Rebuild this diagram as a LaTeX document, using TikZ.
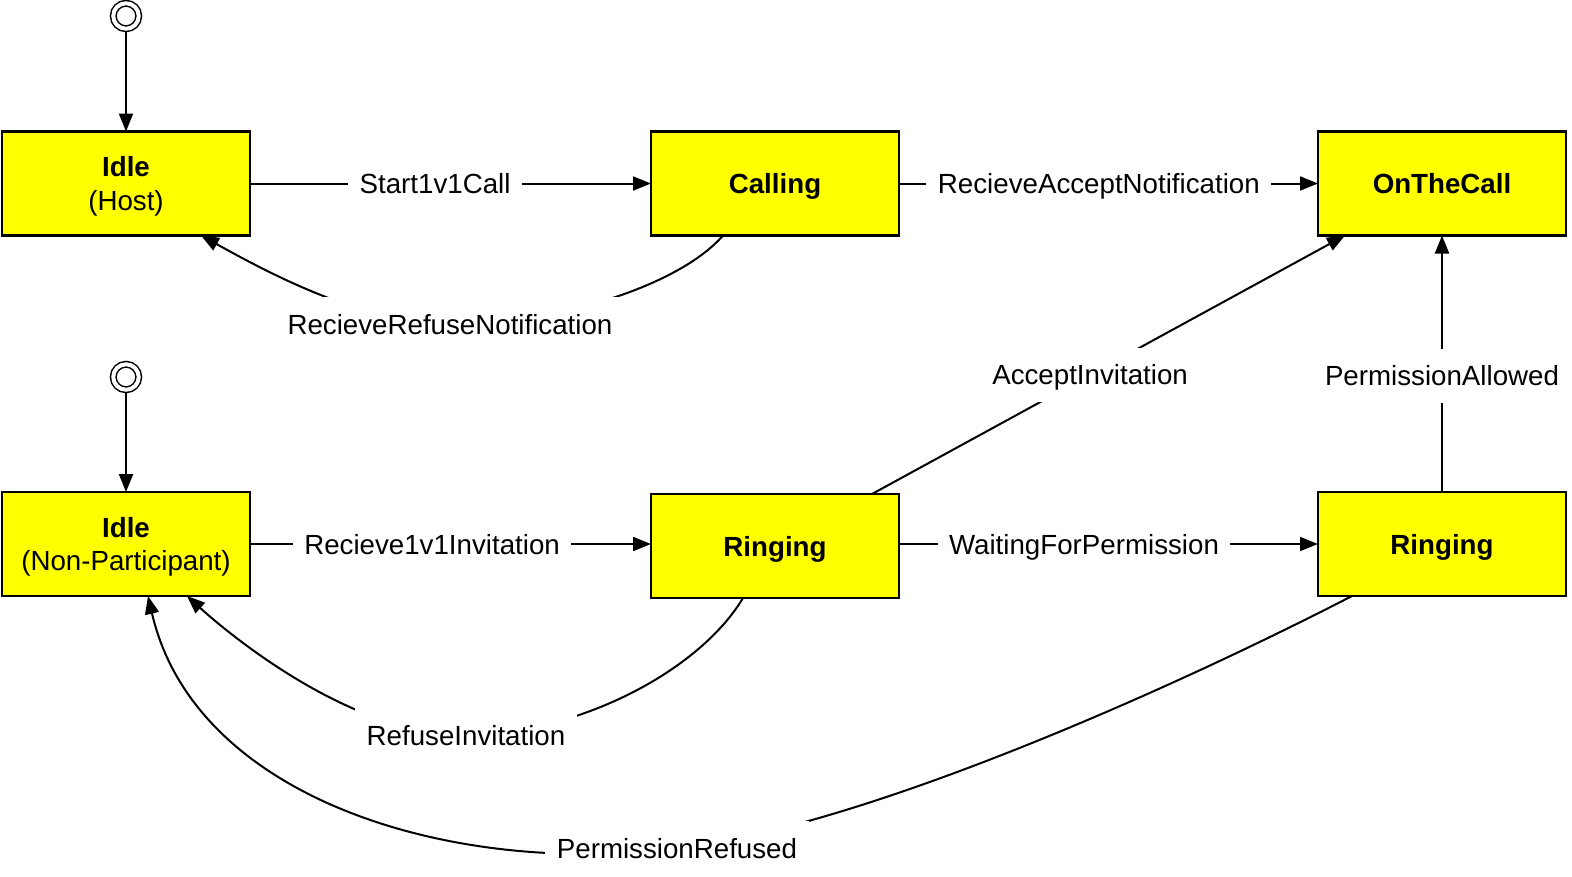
\documentclass[tikz,border=0pt]{standalone}
\usepackage{fontspec}
\setmainfont{Liberation Sans}
\usetikzlibrary{arrows.meta}
\newcommand\dfont{\fontsize{27.7}{33.2}\selectfont}
\definecolor{stateyellow}{RGB}{255,255,0}
\begin{document}
\begin{tikzpicture}[x=1pt,y=-1pt,
  statebox/.style={draw=black, line width=2.1pt, fill=stateyellow, minimum width=248pt,
    minimum height=104pt, inner sep=0pt, outer sep=0pt, align=center, font=\dfont},
  oneline/.style={text height=20pt, text depth=0pt},
  twoline/.style={text height=53.2pt, text depth=0pt},
  initst/.style={circle, draw=black, line width=1.5pt, double=white, double distance=4pt,
    minimum size=25.5pt, inner sep=0pt, outer sep=2.75pt},
  lbl/.style={fill=white, font=\dfont, inner xsep=11.5pt, inner ysep=17pt,
    text height=20pt, text depth=0pt},
  edge/.style={line width=2pt, -{Triangle[length=18pt,width=14pt]}}]
\useasboundingbox (0,0) rectangle (1572,876);

% states
\node[statebox,twoline] (host) at (126,183.5) {\textbf{Idle}\\(Host)};
\node[statebox,oneline] (calling) at (775,183.5) {\textbf{Calling}};
\node[statebox,oneline] (otc) at (1442,183.5) {\textbf{OnTheCall}};
\node[statebox,twoline] (idlenp) at (126,544) {\textbf{Idle}\\(Non-Participant)};
\node[statebox,oneline] (ring1) at (775,546) {\textbf{Ringing}};
\node[statebox,oneline] (ring2) at (1442,544) {\textbf{Ringing}};
\node[initst] (i1) at (126,16) {};
\node[initst] (i2) at (126,377) {};

% initial transitions
\draw[edge] (i1) -- (host);
\draw[edge] (i2) -- (idlenp);

% straight transitions
\draw[edge] (host) -- node[lbl,pos=0.4616]{Start1v1Call} (calling);
\draw[edge] (calling) -- node[lbl,pos=0.477]{RecieveAcceptNotification} (otc);
\draw[edge] (idlenp) -- node[lbl,pos=0.454]{Recieve1v1Invitation} (idlenp -| ring1.west);
\draw[edge] (ring2 -| ring1.east) -- node[lbl,pos=0.4415]{WaitingForPermission} (ring2);
\draw[edge] (ring2) -- node[lbl,pos=0.454]{PermissionAllowed} (otc);
\draw[edge] ([xshift=-27pt]ring1.north east) -- node[lbl,pos=0.461]{AcceptInvitation} ([xshift=27pt]otc.south west);

% curved transitions
\draw[edge] ([xshift=72pt]calling.south west) .. controls (680,285) and (560,324) .. (450,324)
  node[lbl]{RecieveRefuseNotification}
  .. controls (360,324) and (260,268) .. ([xshift=-49pt]host.south east);
\draw[edge] ([xshift=92pt]ring1.south west) .. controls (700,670) and (580,734) .. (466,735)
  node[lbl]{RefuseInvitation}
  .. controls (352,736) and (230,635) .. ([xshift=-63pt]idlenp.south east);
\draw[edge] ([xshift=34pt]ring2.south west) .. controls (1150,700) and (850,830) .. (677,848)
  node[lbl]{PermissionRefused}
  .. controls (455,877) and (195,800) .. ([xshift=146pt]idlenp.south west);
\end{tikzpicture}
\end{document}
